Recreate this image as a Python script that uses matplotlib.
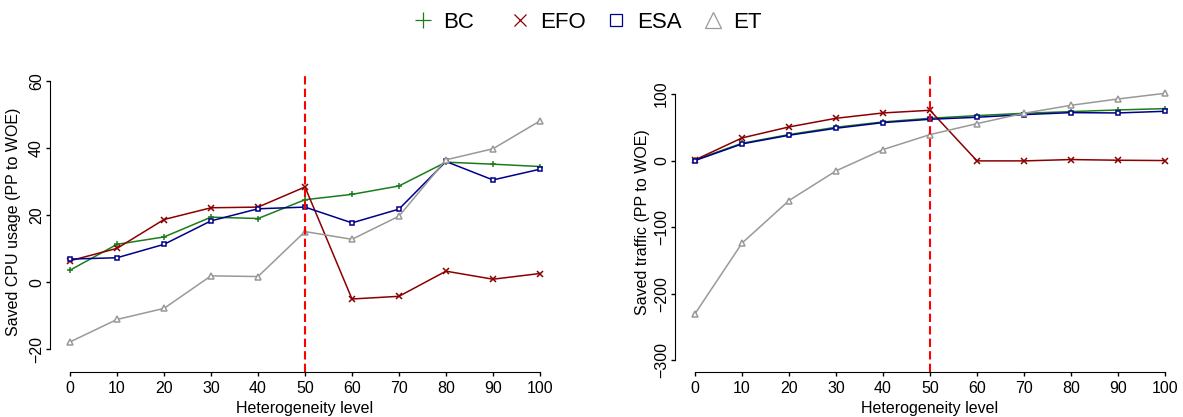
import matplotlib.pyplot as plt
from matplotlib.lines import Line2D

plt.rcParams['font.family'] = ['Liberation Sans', 'DejaVu Sans']

levels = [0, 10, 20, 30, 40, 50, 60, 70, 80, 90, 100]

# Saved CPU usage (PP to WOE)
cpu_bc = [3.6, 11.3, 13.5, 19.4, 19.0, 24.6, 26.2, 28.7, 35.8, 35.2, 34.5]
cpu_efo = [6.4, 10.1, 18.7, 22.2, 22.4, 28.4, -5.0, -4.2, 3.3, 0.9, 2.6]
cpu_esa = [6.9, 7.3, 11.3, 18.3, 21.9, 22.4, 17.7, 21.8, 36.0, 30.5, 33.7]
cpu_et = [-17.8, -11.1, -7.8, 1.9, 1.7, 15.1, 12.8, 19.7, 36.5, 39.8, 48.1]

# Saved traffic (PP to WOE)
tr_bc = [1, 26, 39, 50, 58, 63.5, 67.5, 71, 73.5, 76, 78]
tr_efo = [1, 34, 50.5, 63.5, 71.5, 75.5, -0.5, -0.5, 1.5, 0.5, 0]
tr_esa = [0, 25, 38, 48.5, 57, 62, 65, 69, 72, 71.5, 74]
tr_et = [-230, -124, -60, -15.5, 16.5, 39, 55.5, 71, 83, 92.5, 101]

names = ['BC', 'EFO', 'ESA', 'ET']
colors = ['#1c7c1c', '#8b0000', '#00008b', '#999999']
markers = ['+', 'x', 's', '^']
msizes = [5, 3.8, 3.2, 4]
legend_ms = [12, 8.6, 8.6, 11.5]

W, H = 1183, 417
fig = plt.figure(figsize=(W / 100, H / 100), dpi=100)


def px_axes(x0, x1, top, bottom):
    return fig.add_axes([x0 / W, (H - bottom) / H, (x1 - x0) / W, (bottom - top) / H])


ax1 = px_axes(50.3, 559.7, 73, 372.3)
ax2 = px_axes(675.3, 1184.7, 73, 372.3)


def draw(ax, series, ylim, yticks):
    for vals, c, m, s in zip(series, colors, markers, msizes):
        ax.plot(levels, vals, color=c, lw=1.1, marker=m, ms=s,
                mfc='white' if m in ('s', '^') else c, mew=1.1, clip_on=False)
    ax.axvline(50, color='#ff0000', ls=(0, (4, 2)), lw=1.5)
    ax.set_xlim(-4.2, 104.2)
    ax.set_ylim(*ylim)
    for sp in ['top', 'right']:
        ax.spines[sp].set_visible(False)
    ax.spines['bottom'].set_bounds(0, 100)
    ax.spines['left'].set_bounds(yticks[0], yticks[-1])
    ax.set_xticks(levels)
    ax.set_yticks(yticks)
    ax.tick_params(labelsize=11.5, length=3, width=1, direction='out')
    ax.tick_params(axis='y', pad=1.5)
    ax.tick_params(axis='x', pad=3)
    for lab in ax.get_yticklabels():
        lab.set_rotation(90)
        lab.set_va('center')


draw(ax1, [cpu_bc, cpu_efo, cpu_esa, cpu_et], (-26.86, 62.39), [-20, 0, 20, 40, 60])
draw(ax2, [tr_bc, tr_efo, tr_esa, tr_et], (-318, 131.5), [-300, -200, -100, 0, 100])

fig.text(13.5 / W, 1 - 222 / H, 'Saved CPU usage (PP to WOE)', rotation=90,
         ha='center', va='center', fontsize=11.5)
fig.text(643 / W, 1 - 222 / H, 'Saved traffic (PP to WOE)', rotation=90,
         ha='center', va='center', fontsize=11.5)
fig.text(305 / W, 1 - 408 / H, 'Heterogeneity level', ha='center', va='center',
         fontsize=11.5)
fig.text(930 / W, 1 - 408 / H, 'Heterogeneity level', ha='center', va='center',
         fontsize=11.5)

# legend row on top, R-style equal column widths
for i, (name, c, m, s) in enumerate(zip(names, colors, markers, legend_ms)):
    xc = 422.7 + 96.8 * i
    fig.add_artist(Line2D([xc / W], [1 - 20 / H], transform=fig.transFigure,
                          ls='none', marker=m, color=c, mfc='none', ms=s, mew=0.9))
    fig.text((xc + 20.5) / W, 1 - 20 / H, name, ha='left', va='center_baseline',
             fontsize=16)

fig.savefig('out.png', dpi=100)
